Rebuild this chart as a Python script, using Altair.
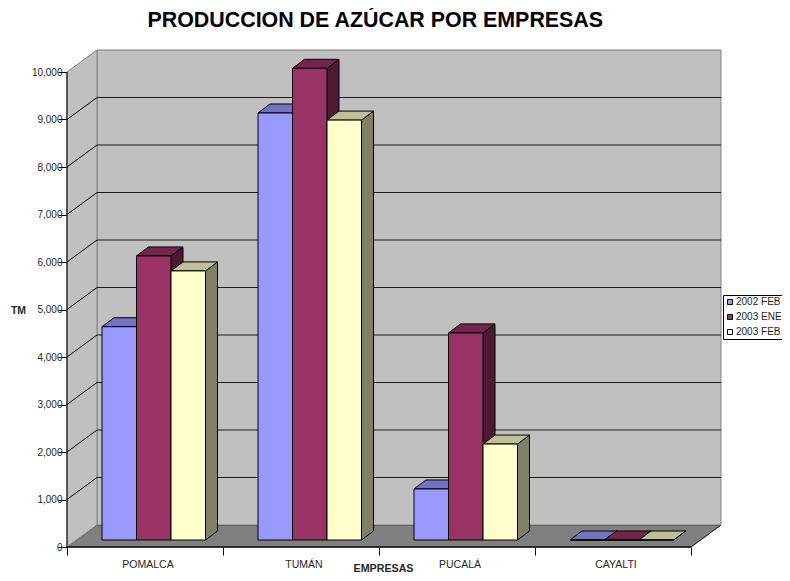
import altair as alt
import pandas as pd

# ---- values ----
CATEGORIES = ["POMALCA", "TUMÁN", "PUCALÁ", "CAYALTI"]
SERIES = ["2002 FEB", "2003 ENE", "2003 FEB"]
FEB_2002 = [4490, 8990, 1075, 0]
ENE_2003 = [5980, 9930, 4360, 0]
FEB_2003 = [5665, 8840, 2020, 0]
Y_TICKS = list(range(0, 11000, 1000))

FRONT = ["#9999FF", "#993366", "#FFFFCC"]
TOP = ["#7373BF", "#73264D", "#BFBF99"]
SIDE = ["#4D4D80", "#4D1A33", "#808066"]

# ---- geometry of the 3-D box, in px, converted into data units ----
W, H = 715, 497          # plot area: image x 67..782, y 50..547
PX_CAT = 156.0           # px per category
PX_TM = 47.5 / 1000.0    # px per TM
XMAX, YMAX = W / PX_CAT, H / PX_TM
WALL_DX, WALL_DY = 30 / PX_CAT, 22 / PX_TM
BAR_X0, BAR_W = 35 / PX_CAT, 34.5 / PX_CAT
BAR_BASE = 7 / PX_TM
BAR_DX, BAR_DY = 12 / PX_CAT, 9 / PX_TM
LABEL_Y = -17.5 / PX_TM
NCAT = len(CATEGORIES)
YTOP = Y_TICKS[-1]

xs = alt.Scale(domain=[0, XMAX], nice=False, zero=False)
ys = alt.Scale(domain=[0, YMAX], nice=False, zero=False)
FONT = "Liberation Sans"
TXT = "#262626"

X_AXIS = alt.Axis(values=list(range(NCAT + 1)), labels=False, domain=False, grid=False,
                  tickSize=8, tickColor="#000000", title="EMPRESAS", titleFont=FONT,
                  titleFontSize=10.7, titleFontWeight="bold", titleColor=TXT,
                  titleAlign="center", titleX=316, titleY=21, titleBaseline="middle")
Y_AXIS = alt.Axis(values=Y_TICKS, labelExpr="format(datum.value, ',')", domain=False, grid=False, tickSize=9,
                  tickColor="#000000", labelPadding=-4, labelFont=FONT, labelFontSize=10,
                  labelColor=TXT, labelFlush=False, labelOverlap=False, labelBound=False,
                  title="TM", titleFont=FONT, titleFontSize=10.4, titleFontWeight="bold",
                  titleColor=TXT, titleAngle=0, titleX=-49, titleY=260,
                  titleAlign="center", titleBaseline="middle")


def X(f="x"):
    return alt.X(f"{f}:Q", scale=xs, axis=X_AXIS, title="EMPRESAS")


def Y(f="y"):
    return alt.Y(f"{f}:Q", scale=ys, axis=Y_AXIS, title="TM")


# ---- walls and floor ----
floor_df = pd.DataFrame({"y": [0, WALL_DY], "x": [0, WALL_DX], "x2": [NCAT, NCAT + WALL_DX]})
floor = alt.Chart(floor_df).mark_area(orient="horizontal", fill="#808080", stroke="#000000", strokeWidth=1).encode(
    x=X(), x2="x2:Q", y=Y())

back_df = pd.DataFrame({"x": [WALL_DX], "x2": [NCAT + WALL_DX], "y": [WALL_DY], "y2": [YTOP + WALL_DY]})
back = alt.Chart(back_df).mark_rect(fill="#C0C0C0", stroke="#808080", strokeWidth=1).encode(
    x=X(), x2="x2:Q", y=Y(), y2="y2:Q")

left_df = pd.DataFrame({"x": [0, WALL_DX], "y": [0, WALL_DY], "y2": [YTOP, YTOP + WALL_DY]})
left = alt.Chart(left_df).mark_area(fill="#C0C0C0", stroke="#808080", strokeWidth=1).encode(
    x=X(), y=Y(), y2="y2:Q")

grid_ticks = Y_TICKS[1:-1]
grid_df = pd.DataFrame({"x": [WALL_DX] * len(grid_ticks), "x2": [NCAT + WALL_DX] * len(grid_ticks),
                        "y": [t + WALL_DY for t in grid_ticks]})
grid = alt.Chart(grid_df).mark_rule(color="#1a1a1a", strokeWidth=1).encode(x=X(), x2="x2:Q", y=Y())

slant_rows = []
for t in grid_ticks:
    slant_rows += [{"t": t, "x": 0, "y": t}, {"t": t, "x": WALL_DX, "y": t + WALL_DY}]
slant = alt.Chart(pd.DataFrame(slant_rows)).mark_line(color="#000000", strokeWidth=1).encode(
    x=X(), y=Y(), detail="t:N")

# front axis lines
axis_y = alt.Chart(pd.DataFrame({"x": [0], "y": [0], "y2": [YTOP]})).mark_rule(color="#000000", strokeWidth=1).encode(
    x=X(), y=Y(), y2="y2:Q")
axis_x = alt.Chart(pd.DataFrame({"x": [0], "x2": [NCAT], "y": [0]})).mark_rule(color="#000000", strokeWidth=1).encode(
    x=X(), x2="x2:Q", y=Y())

# ---- bars ----
front_rows, side_rows, top_rows = [], [], []
for s, vals in zip(SERIES, [FEB_2002, ENE_2003, FEB_2003]):
    j = SERIES.index(s)
    for i, v in enumerate(vals):
        x0 = i + BAR_X0 + j * BAR_W
        x1 = x0 + BAR_W
        y0 = BAR_BASE
        y1 = BAR_BASE + v
        key = f"{s}-{i}"
        front_rows.append({"serie": s, "x": x0, "x2": x1, "y": y0, "y2": y1})
        side_rows += [{"serie": s, "k": key, "x": x1, "y": y0, "y2": y1},
                      {"serie": s, "k": key, "x": x1 + BAR_DX, "y": y0 + BAR_DY, "y2": y1 + BAR_DY}]
        top_rows += [{"serie": s, "k": key, "y": y1, "x": x0, "x2": x1},
                     {"serie": s, "k": key, "y": y1 + BAR_DY, "x": x0 + BAR_DX, "x2": x1 + BAR_DX}]

sides = alt.Chart(pd.DataFrame(side_rows)).mark_area(stroke="#000000", strokeWidth=1, opacity=1).encode(
    x=X(), y=Y(), y2="y2:Q", detail="k:N",
    fill=alt.Fill("serie:N", scale=alt.Scale(domain=SERIES, range=SIDE), legend=None))
tops = alt.Chart(pd.DataFrame(top_rows)).mark_area(orient="horizontal", stroke="#000000", strokeWidth=1, opacity=1).encode(
    y=Y(), x=X(), x2="x2:Q", detail="k:N",
    fill=alt.Fill("serie:N", scale=alt.Scale(domain=SERIES, range=TOP), legend=None))
fronts = alt.Chart(pd.DataFrame(front_rows)).mark_rect(stroke="#000000", strokeWidth=1, opacity=1).encode(
    x=X(), x2="x2:Q", y=Y(), y2="y2:Q",
    fill=alt.Fill("serie:N", scale=alt.Scale(domain=SERIES, range=FRONT),
                  legend=alt.Legend(title=None, orient="none", legendX=656, legendY=245,
                                    fillColor="#FFFFFF", strokeColor="#000000", padding=2,
                                    symbolType="square", symbolSize=25, symbolStrokeColor="#000000",
                                    symbolStrokeWidth=1, symbolOpacity=1, labelFont=FONT,
                                    labelFontSize=10, labelColor=TXT, labelOffset=1, rowPadding=5,
                                    offset=0, values=SERIES)))

# ---- category labels ----
labels_df = pd.DataFrame({"x": [i + 0.5 for i in range(NCAT)], "y": [LABEL_Y] * NCAT, "label": CATEGORIES})
labels = alt.Chart(labels_df).mark_text(font=FONT, fontSize=10.5, color=TXT, dx=3, baseline="middle").encode(
    x=X(), y=Y(), text="label:N")

chart = alt.layer(floor, back, left, grid, slant, axis_y, axis_x, sides, tops, fronts, labels).resolve_scale(
    fill="independent"
).properties(
    width=W, height=H,
    autosize=alt.AutoSizeParams(type="none"),
    padding={"left": 59, "top": 42, "right": 0, "bottom": 26},
    background="#FFFFFF",
    title=alt.TitleParams("PRODUCCION DE AZÚCAR POR EMPRESAS", font=FONT, fontSize=21.4, fontWeight="bold",
                          color="#000000", anchor="start", align="left", dx=137, offset=17),
).configure_view(stroke=None)

chart.save("out.html", embed_options={"renderer": "svg", "actions": False})
